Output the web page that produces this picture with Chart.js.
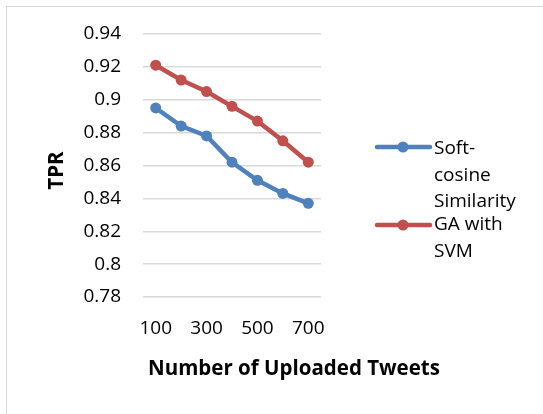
<!DOCTYPE html>
<html>
<head>
<meta charset="utf-8">
<script src="https://cdn.jsdelivr.net/npm/chart.js@4/dist/chart.umd.min.js"></script>
<style>
  html, body { margin: 0; padding: 0; background: #fff; overflow: hidden; width: 543px; height: 414px; }
  #frame { position: absolute; left: 6px; top: 6px; width: 600px; height: 500px; border: 1px solid #d9d9d9; box-sizing: border-box; }
  #c { position: absolute; left: 0; top: 0; }
</style>
</head>
<body>
<div id="frame"></div>
<canvas id="c" width="543" height="414"></canvas>
<script>
// Number of uploaded tweets (x categories)
const tweetCounts = ['100', '200', '300', '400', '500', '600', '700'];
// True positive rate per method
const softCosineTPR = [0.895, 0.884, 0.878, 0.862, 0.851, 0.843, 0.837];
const gaSvmTPR = [0.921, 0.912, 0.905, 0.896, 0.887, 0.875, 0.862];
const seriesNames = ['Soft-cosine Similarity', 'GA with SVM'];
// Wrapped legend text for each series
const legendLines = [['Soft-', 'cosine', 'Similarity'], ['GA with', 'SVM']];
const yTickLabels = ['0.78', '0.8', '0.82', '0.84', '0.86', '0.88', '0.9', '0.92', '0.94'];
const xTitle = 'Number of Uploaded Tweets';
const yTitle = 'TPR';

const FONT = "'Open Sans', 'Noto Sans', sans-serif";
const BLUE = '#4f81bd';
const RED = '#c0504d';

// Axis titles and the wrapped legend on the right
const decorations = {
  id: 'decorations',
  afterDraw(chart) {
    const ctx = chart.ctx;
    const area = chart.chartArea;
    ctx.save();
    ctx.fillStyle = '#000';
    ctx.font = 'bold 20.5px ' + FONT;
    ctx.textAlign = 'center';
    ctx.textBaseline = 'middle';
    ctx.fillText(xTitle, area.left + 151, area.bottom + 72);
    ctx.save();
    ctx.translate(57, (area.top + area.bottom) / 2 + 5);
    ctx.rotate(-Math.PI / 2);
    ctx.fillText(yTitle, 0, 0);
    ctx.restore();

    const starts = [149, 225];
    chart.data.datasets.forEach((ds, i) => {
      const y0 = starts[i];
      const ly = y0 - 2 + (i === 1 ? 2 : 0);
      ctx.strokeStyle = ds.borderColor;
      ctx.lineWidth = 4.5;
      ctx.lineCap = 'round';
      ctx.beginPath();
      ctx.moveTo(area.right + 56, ly);
      ctx.lineTo(area.right + 109, ly);
      ctx.stroke();
      ctx.fillStyle = ds.borderColor;
      ctx.beginPath();
      ctx.arc(area.right + 82, ly, 5.5, 0, Math.PI * 2);
      ctx.fill();
      ctx.fillStyle = '#000';
      ctx.font = '19px ' + FONT;
      ctx.textAlign = 'left';
      legendLines[i].forEach((t, k) => ctx.fillText(t, area.right + 113, y0 + k * 26.5));
    });
    ctx.restore();
  }
};

new Chart(document.getElementById('c'), {
  type: 'line',
  data: {
    labels: tweetCounts,
    datasets: [
      { label: seriesNames[0], data: softCosineTPR, borderColor: BLUE, backgroundColor: BLUE },
      { label: seriesNames[1], data: gaSvmTPR, borderColor: RED, backgroundColor: RED }
    ]
  },
  options: {
    responsive: false,
    animation: false,
    devicePixelRatio: 1,
    layout: { padding: { top: 34, right: 222, left: 0, bottom: 0 } },
    elements: {
      line: { borderWidth: 4.5, tension: 0 },
      point: { radius: 5.5, borderWidth: 0, hoverRadius: 5.5 }
    },
    plugins: { legend: { display: false }, tooltip: { enabled: false } },
    scales: {
      x: {
        offset: true,
        grid: { display: false, drawTicks: false },
        border: { display: false },
        ticks: {
          autoSkip: false,
          maxRotation: 0,
          padding: 20,
          color: '#000',
          font: { family: FONT, size: 19 },
          callback: (v, i) => (i % 2 === 0 ? tweetCounts[i] : '')
        },
        afterFit: s => { s.height = 117; }
      },
      y: {
        min: 0.78,
        max: 0.94,
        grid: { color: '#d9d9d9', lineWidth: 1.5, drawTicks: false },
        border: { display: false },
        ticks: {
          stepSize: 0.02,
          padding: 22,
          color: '#000',
          font: { family: FONT, size: 19 },
          callback: (v, i) => yTickLabels[i]
        },
        afterFit: s => { s.width = 143; }
      }
    }
  },
  plugins: [decorations]
});
</script>
</body>
</html>
